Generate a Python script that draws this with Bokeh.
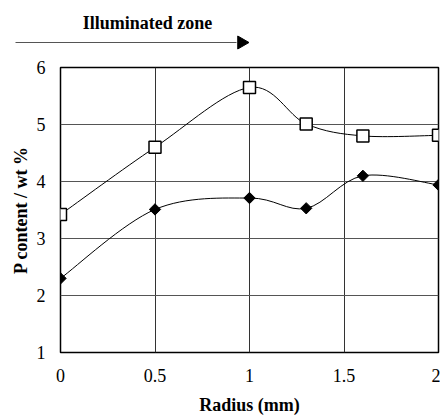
import numpy as np
from bokeh.plotting import figure
from bokeh.layouts import column, row
from bokeh.models import FixedTicker, ColumnDataSource
from bokeh.core.properties import value
from bokeh.embed import file_html
from bokeh.resources import INLINE

# data
radius = [0.0, 0.5, 1.0, 1.3, 1.6, 2.0]
p_open = [3.42, 4.60, 5.65, 5.01, 4.80, 4.81]
p_filled = [2.30, 3.51, 3.71, 3.53, 4.10, 3.94]
x_ticks = [0, 0.5, 1, 1.5, 2]
y_ticks = [1, 2, 3, 4, 5, 6]
x_title = "Radius (mm)"
y_title = "P content / wt %"
zone_label = "Illuminated zone"

FONT = "Liberation Serif"

# ---------- header strip: "Illuminated zone" with arrow ----------
HEAD_H = 52
hdr = figure(width=440, height=HEAD_H, x_range=(0, 440), y_range=(HEAD_H, 0),
             output_backend="svg", toolbar_location=None,
             min_border=0, min_border_left=0, min_border_right=0,
             min_border_top=0, min_border_bottom=0)
hdr.axis.visible = False
hdr.grid.visible = False
hdr.outline_line_color = None
hdr.background_fill_color = "white"
hdr.border_fill_color = "white"
hdr.text(x=[147], y=[22], text=[zone_label], text_font=value(FONT),
         text_font_size="18px", text_font_style="bold", text_color="black",
         text_align="center", text_baseline="middle")
hdr.segment(x0=[15], y0=[42], x1=[236], y1=[42], line_color="#555555", line_width=1)
hdr.scatter(x=[241], y=[42], marker="triangle", size=13, angle=-np.pi / 2,
            fill_color="black", line_color="black")

# ---------- main chart ----------
p = figure(width=440, height=417 - HEAD_H, x_range=(0, 2), y_range=(1, 6),
           output_backend="svg", toolbar_location=None,
           min_border_left=60, min_border_right=2, min_border_top=67 - HEAD_H,
           min_border_bottom=62)
p.background_fill_color = "white"
p.border_fill_color = "white"
p.outline_line_color = "black"
p.outline_line_width = 1.5

for ax in (p.xaxis, p.yaxis):
    ax.axis_line_color = None
    ax.major_tick_line_color = None
    ax.minor_tick_line_color = None
    ax.major_label_text_font = FONT
    ax.major_label_text_font_size = "18px"
    ax.major_label_text_color = "black"
    ax.axis_label_text_font = FONT
    ax.axis_label_text_font_size = "18px"
    ax.axis_label_text_font_style = "bold"
    ax.axis_label_text_color = "black"

p.xaxis.ticker = FixedTicker(ticks=x_ticks)
p.yaxis.ticker = FixedTicker(ticks=y_ticks)
p.xaxis.major_label_overrides = {0: "0", 0.5: "0.5", 1: "1", 1.5: "1.5", 2: "2"}
p.xaxis.major_label_standoff = 10
p.yaxis.major_label_standoff = 9
p.xaxis.axis_label = x_title
p.yaxis.axis_label = y_title
p.xaxis.axis_label_standoff = 10
p.yaxis.axis_label_standoff = 3

p.xgrid.grid_line_color = "#333333"
p.ygrid.grid_line_color = "#555555"
p.xgrid.grid_line_width = 1
p.ygrid.grid_line_width = 1


def smooth_segments(xs, ys):
    pts = np.column_stack([xs, ys]).astype(float)
    n = len(pts)
    seg = dict(x0=[], y0=[], x1=[], y1=[], cx0=[], cy0=[], cx1=[], cy1=[])
    for i in range(n - 1):
        p0 = pts[i - 1] if i > 0 else pts[i]
        p1 = pts[i]
        p2 = pts[i + 1]
        p3 = pts[i + 2] if i + 2 < n else pts[i + 1]
        c1 = p1 + (p2 - p0) / 6.0
        c2 = p2 - (p3 - p1) / 6.0
        seg["x0"].append(p1[0]); seg["y0"].append(p1[1])
        seg["x1"].append(p2[0]); seg["y1"].append(p2[1])
        seg["cx0"].append(c1[0]); seg["cy0"].append(c1[1])
        seg["cx1"].append(c2[0]); seg["cy1"].append(c2[1])
    return ColumnDataSource(seg)


for ys in (p_open, p_filled):
    p.bezier(x0="x0", y0="y0", x1="x1", y1="y1", cx0="cx0", cy0="cy0",
             cx1="cx1", cy1="cy1", source=smooth_segments(radius, ys),
             line_color="black", line_width=1)

p.scatter(radius, p_open, marker="square", size=12, fill_color="white",
          line_color="black", line_width=1.5)
p.scatter(radius, p_filled, marker="square", size=8, angle=np.pi / 4,
          fill_color="black", line_color="black", line_width=1)

layout = column(row(hdr), p, spacing=0)
open("out.html", "w").write(file_html(layout, INLINE))
